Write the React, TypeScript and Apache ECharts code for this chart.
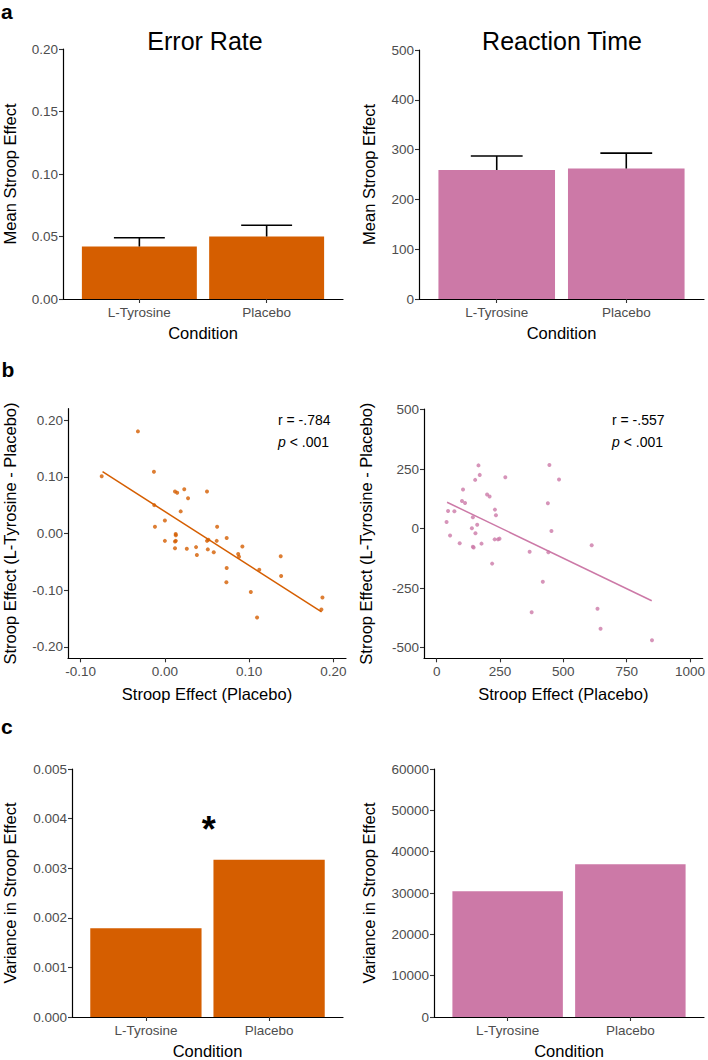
import React, { useEffect, useRef } from "react";
import * as echarts from "echarts";

// ---------- data ----------
const conditions = ["L-Tyrosine", "Placebo"];
const meanErrorRate = [0.042, 0.05];
const upperErrorRate = [0.049, 0.059];
const meanReactionTime = [259, 262];
const upperReactionTime = [287, 293];
const varianceErrorRate = [0.00179, 0.00317];
const varianceReactionTime = [30400, 36950];

// [Stroop effect (placebo), Stroop effect (L-Tyrosine - Placebo)]
const errorRateScatter = [
  [-0.075, 0.101], [-0.032, 0.18], [-0.013, 0.109], [-0.0126, 0.05], [-0.0118, 0.012],
  [0.0, 0.023], [0.0, -0.013], [0.012, 0.074], [0.0146, 0.072], [0.023, 0.078],
  [0.0275, 0.062], [0.0188, 0.039], [0.0128, -0.001], [0.013, -0.003], [0.012, -0.014],
  [0.013, -0.013], [0.012, -0.026], [0.026, -0.027], [0.037, -0.024], [0.038, -0.038],
  [0.05, 0.074], [0.05, -0.013], [0.0516, -0.011], [0.051, -0.028], [0.058, -0.033],
  [0.062, 0.012], [0.0615, -0.013], [0.0734, -0.008], [0.0734, -0.061], [0.073, -0.086],
  [0.087, -0.036], [0.088, -0.041], [0.092, -0.023], [0.102, -0.103], [0.112, -0.064],
  [0.1375, -0.04], [0.138, -0.075], [0.1094, -0.148], [0.187, -0.113], [0.1858, -0.134],
];
const reactionTimeScatter = [
  [39, 28], [45, 74], [53, -29], [70, 73], [91, -61], [100, 116], [104, 165], [112, 108],
  [139, 2], [143, -76], [146, -79], [143, 48], [153, -19], [152, 205], [160, 16], [165, 266],
  [170, 226], [177, -63], [199, 144], [209, 135], [219, -147], [230, 80], [234, 56], [229, -45],
  [242, -45], [248, -42], [271, 216], [367, -97], [375, -351], [419, -223], [439, 107],
  [441, -99], [445, 268], [453, -10], [483, 207], [612, -70], [635, -337], [647, -421], [850, -469],
];
const errorRateFit = [[-0.074, 0.109], [0.186, -0.138]];
const reactionTimeFit = [[41, 111], [849, -303]];

const errorRateTicksX = [-0.1, 0, 0.1, 0.2];
const errorRateTicksY = [-0.2, -0.1, 0, 0.1, 0.2];
const reactionTimeTicksX = [0, 250, 500, 750, 1000];
const reactionTimeTicksY = [-500, -250, 0, 250, 500];

// ---------- style ----------
const ORANGE = "#D55E00";
const PINK = "#CC79A7";
const FONT = "'Liberation Sans', Arial, Helvetica, sans-serif";
const TICK_COLOR = "#4D4D4D";

const grids = [
  { left: 62, top: 49, width: 281, height: 250 },
  { left: 419, top: 50, width: 285, height: 249 },
  { left: 68, top: 408.7, width: 278, height: 249.6 },
  { left: 424, top: 409, width: 281.6, height: 249.3 },
  { left: 71, top: 769, width: 272, height: 249.3 },
  { left: 434, top: 769, width: 270, height: 249.3 },
];

const nameStyle = { fontSize: 16.5, color: "#000", fontFamily: FONT };
const labelStyle = { color: TICK_COLOR, fontSize: 13.5, fontFamily: FONT };
const axisLine = { onZero: false, lineStyle: { color: "#000", width: 1.2 } };
const axisTick = { length: 4, lineStyle: { color: "#333", width: 1.1 } };

function barXAxis(gridIndex: number) {
  return {
    type: "value",
    gridIndex,
    min: 0.4,
    max: 2.6,
    axisLine,
    axisTick: { ...axisTick, customValues: [1, 2] },
    axisLabel: {
      ...labelStyle,
      margin: 6,
      customValues: [1, 2],
      formatter: (v: number) => conditions[Math.round(v) - 1] ?? "",
    },
    splitLine: { show: false },
    name: "Condition",
    nameLocation: "middle",
    nameGap: 25,
    nameTextStyle: nameStyle,
  };
}

function barYAxis(gridIndex: number, max: number, interval: number, digits: number, name: string, gap: number) {
  return {
    type: "value",
    gridIndex,
    min: 0,
    max,
    interval,
    axisLine,
    axisTick,
    axisLabel: { ...labelStyle, margin: 5, formatter: (v: number) => v.toFixed(digits) },
    splitLine: { show: false },
    name,
    nameLocation: "middle",
    nameGap: gap,
    nameRotate: 90,
    nameTextStyle: nameStyle,
  };
}

function scatterAxis(
  dim: "x" | "y",
  gridIndex: number,
  min: number,
  max: number,
  ticks: number[],
  digits: number,
  name: string,
  gap: number
) {
  return {
    type: "value",
    gridIndex,
    min,
    max,
    axisLine,
    axisTick: { ...axisTick, customValues: ticks },
    axisLabel: {
      ...labelStyle,
      margin: dim === "x" ? 6 : 5,
      customValues: ticks,
      formatter: (v: number) => (Math.abs(v) < 1e-9 ? 0 : v).toFixed(digits),
    },
    splitLine: { show: false },
    name,
    nameLocation: "middle",
    nameGap: gap,
    nameRotate: dim === "y" ? 90 : 0,
    nameTextStyle: nameStyle,
  };
}

function barSeries(axisIndex: number, values: number[], color: string) {
  const w = (grids[axisIndex].width / 2.2) * 0.9;
  return {
    type: "bar",
    xAxisIndex: axisIndex,
    yAxisIndex: axisIndex,
    data: values.map((v, i) => [i + 1, v]),
    barWidth: w,
    itemStyle: { color },
    z: 2,
  };
}

function errorBarSeries(axisIndex: number, means: number[], uppers: number[]) {
  return {
    type: "custom",
    xAxisIndex: axisIndex,
    yAxisIndex: axisIndex,
    data: means.map((m, i) => [i + 1, m, uppers[i]]),
    encode: { x: 0, y: [1, 2] },
    z: 3,
    renderItem: (_params: any, api: any) => {
      const x = api.value(0);
      const p0 = api.coord([x, api.value(1)]);
      const p1 = api.coord([x, api.value(2)]);
      const half = api.size([0.2, 0])[0];
      const style = { stroke: "#000", lineWidth: 1.6 };
      return {
        type: "group",
        children: [
          { type: "line", shape: { x1: p0[0], y1: p0[1], x2: p1[0], y2: p1[1] }, style },
          { type: "line", shape: { x1: p1[0] - half, y1: p1[1], x2: p1[0] + half, y2: p1[1] }, style },
        ],
      };
    },
  };
}

function scatterSeries(axisIndex: number, pts: number[][], color: string) {
  return {
    type: "scatter",
    xAxisIndex: axisIndex,
    yAxisIndex: axisIndex,
    data: pts,
    symbolSize: 4,
    itemStyle: { color },
    z: 3,
  };
}

function fitSeries(axisIndex: number, pts: number[][], color: string) {
  return {
    type: "line",
    xAxisIndex: axisIndex,
    yAxisIndex: axisIndex,
    data: pts,
    showSymbol: false,
    symbol: "none",
    lineStyle: { color, width: 1.5 },
    z: 2,
  };
}

function txt(x: number, y: number, text: string, fontSize: number, opts: any = {}) {
  return {
    type: "text",
    x,
    y,
    style: {
      text,
      fontSize,
      fontFamily: FONT,
      fill: "#000",
      align: opts.align ?? "left",
      verticalAlign: "middle",
      fontWeight: opts.bold ? "bold" : "normal",
      rich: opts.rich,
    },
  };
}

const pRich = {
  i: { fontStyle: "italic", fontSize: 14, fontFamily: FONT, fill: "#000" },
};

export default function App() {
  const ref = useRef<HTMLDivElement>(null);

  useEffect(() => {
    document.body.style.margin = "0";
    if (!ref.current) return;
    const chart = echarts.init(ref.current, undefined, { renderer: "svg" });
    chart.setOption({
      animation: false,
      backgroundColor: "#fff",
      grid: grids.map((g) => ({ ...g, containLabel: false })),
      xAxis: [
        barXAxis(0),
        barXAxis(1),
        scatterAxis("x", 2, -0.115, 0.215, errorRateTicksX, 2, "Stroop Effect (Placebo)", 27),
        scatterAxis("x", 3, -50, 1050, reactionTimeTicksX, 0, "Stroop Effect (Placebo)", 27),
        barXAxis(4),
        barXAxis(5),
      ],
      yAxis: [
        barYAxis(0, 0.2, 0.05, 2, "Mean Stroop Effect", 45),
        barYAxis(1, 500, 100, 0, "Mean Stroop Effect", 42),
        scatterAxis("y", 2, -0.22, 0.22, errorRateTicksY, 2, "Stroop Effect (L-Tyrosine - Placebo)", 50),
        scatterAxis("y", 3, -545, 503, reactionTimeTicksY, 0, "Stroop Effect (L-Tyrosine - Placebo)", 50),
        barYAxis(4, 0.005, 0.001, 3, "Variance in Stroop Effect", 54),
        barYAxis(5, 60000, 10000, 0, "Variance in Stroop Effect", 57),
      ],
      series: [
        barSeries(0, meanErrorRate, ORANGE),
        errorBarSeries(0, meanErrorRate, upperErrorRate),
        barSeries(1, meanReactionTime, PINK),
        errorBarSeries(1, meanReactionTime, upperReactionTime),
        scatterSeries(2, errorRateScatter, ORANGE),
        fitSeries(2, errorRateFit, ORANGE),
        scatterSeries(3, reactionTimeScatter, PINK),
        fitSeries(3, reactionTimeFit, PINK),
        barSeries(4, varianceErrorRate, ORANGE),
        barSeries(5, varianceReactionTime, PINK),
      ],
      graphic: [
        txt(1, 11, "a", 21, { bold: true }),
        txt(1.5, 369, "b", 21, { bold: true }),
        txt(1, 726, "c", 21, { bold: true }),
        txt(205, 41.3, "Error Rate", 25, { align: "center" }),
        txt(562, 41.3, "Reaction Time", 25, { align: "center" }),
        txt(278, 420, "r = -.784", 14),
        txt(278, 441.7, "{i|p} < .001", 14, { rich: pRich }),
        txt(612, 420, "r = -.557", 14),
        txt(612, 441.7, "{i|p} < .001", 14, { rich: pRich }),
        txt(208.8, 829, "*", 36, { align: "center", bold: true }),
      ],
    });
    return () => chart.dispose();
  }, []);

  return <div ref={ref} style={{ width: 708, height: 1060 }} />;
}
